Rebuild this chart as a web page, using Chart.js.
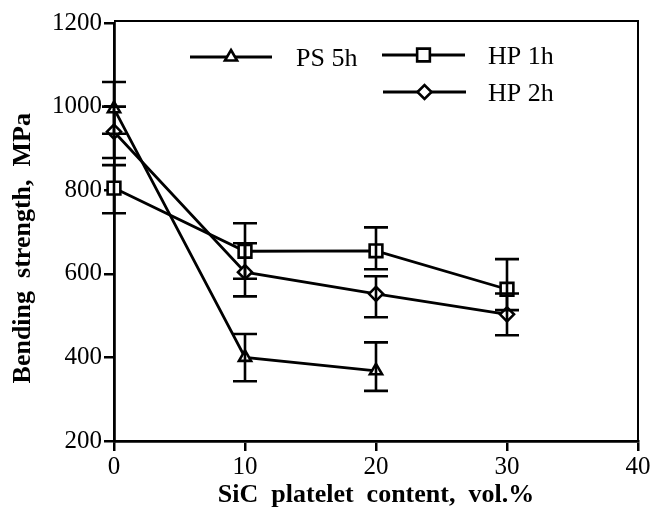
<!DOCTYPE html>
<html><head><meta charset="utf-8">
<script src="https://cdn.jsdelivr.net/npm/chart.js@4/dist/chart.umd.min.js"></script>
<style>html,body{margin:0;padding:0;background:#fff}</style>
</head><body>
<canvas id="c" width="663" height="515"></canvas>
<script>
// ---- data ----
const seriesNames = ['PS 5h', 'HP 1h', 'HP 2h'];
const psX  = [0, 10, 20];
const psY  = [995, 400, 368];
const psHi = [1059, 456, 436];
const psLo = [935, 343, 320];
const hpX   = [0, 10, 20, 30];
const hp1Y  = [805, 654, 655, 563];
const hp1Hi = [860, 721, 711, 635];
const hp1Lo = [745, 588, 611, 513];
const hp2Y  = [940, 604, 552, 503];
const hp2Hi = [1000, 673, 594, 553];
const hp2Lo = [877, 546, 496, 453];
const xTicks = [0, 10, 20, 30, 40];
const yTicks = [200, 400, 600, 800, 1000, 1200];
const xTitle = 'SiC  platelet  content,  vol.%';
const yTitle = 'Bending  strength,  MPa\u00a0\u00a0\u00a0\u00a0\u00a0';

function pts(xs, ys, hi, lo) { return xs.map((x, i) => ({x: x, y: ys[i], hi: hi[i], lo: lo[i]})); }

const FONT = "'Liberation Serif', 'Times New Roman', serif";

const errorBars = {
  id: 'errorBars',
  afterDatasetsDraw(chart) {
    const ctx = chart.ctx, ys = chart.scales.y;
    ctx.save();
    ctx.strokeStyle = '#000';
    ctx.lineWidth = 2.6;
    chart.data.datasets.forEach((ds, di) => {
      const meta = chart.getDatasetMeta(di);
      meta.data.forEach((el, i) => {
        const p = ds.data[i];
        const x = el.x, yh = ys.getPixelForValue(p.hi), yl = ys.getPixelForValue(p.lo);
        ctx.beginPath();
        ctx.moveTo(x, yh); ctx.lineTo(x, yl);
        ctx.moveTo(x - 12, yh); ctx.lineTo(x + 12, yh);
        ctx.moveTo(x - 12, yl); ctx.lineTo(x + 12, yl);
        ctx.stroke();
      });
    });
    ctx.restore();
  }
};

const frame = {
  id: 'frame',
  afterDraw(chart) {
    const {ctx, chartArea: a} = chart;
    ctx.save();
    ctx.strokeStyle = '#000';
    ctx.lineWidth = 2;
    ctx.beginPath();
    ctx.moveTo(a.left, a.top - 2); ctx.lineTo(a.right, a.top - 2); ctx.lineTo(a.right, a.bottom);
    ctx.stroke();
    // legend
    const items = [
      {ds: 0, x1: 190, x2: 272, y: 57, tx: 296},
      {ds: 1, x1: 382, x2: 465, y: 55, tx: 488},
      {ds: 2, x1: 383, x2: 466, y: 92, tx: 488}
    ];
    ctx.font = "26px " + FONT;
    ctx.textBaseline = 'middle';
    items.forEach(it => {
      const ds = chart.data.datasets[it.ds];
      ctx.strokeStyle = '#000';
      ctx.lineWidth = 2.8;
      ctx.beginPath(); ctx.moveTo(it.x1, it.y); ctx.lineTo(it.x2, it.y); ctx.stroke();
      ctx.fillStyle = '#fff';
      ctx.lineWidth = 2.6;
      Chart.helpers.drawPoint(ctx, {pointStyle: ds.pointStyle, rotation: 0, borderWidth: 2.6, radius: ds.pointRadius}, (it.x1 + it.x2) / 2, it.y);
      ctx.fillStyle = '#000';
      ctx.fillText(seriesNames[it.ds], it.tx, it.y + 2);
    });
    ctx.restore();
  }
};

const common = {borderColor: '#000', backgroundColor: '#fff', borderWidth: 2.8, clip: false,
  pointBorderWidth: 2.6, pointBackgroundColor: '#fff', pointBorderColor: '#000', tension: 0, fill: false};

new Chart(document.getElementById('c'), {
  type: 'line',
  data: {
    datasets: [
      Object.assign({label: seriesNames[0], data: pts(psX, psY, psHi, psLo), pointStyle: 'triangle', pointRadius: 7}, common),
      Object.assign({label: seriesNames[1], data: pts(hpX, hp1Y, hp1Hi, hp1Lo), pointStyle: 'rect', pointRadius: 9}, common),
      Object.assign({label: seriesNames[2], data: pts(hpX, hp2Y, hp2Hi, hp2Lo), pointStyle: 'rectRot', pointRadius: 7}, common)
    ]
  },
  options: {
    responsive: false,
    animation: false,
    devicePixelRatio: 1,
    layout: {padding: {left: 0, top: 23, right: 25, bottom: 0}},
    plugins: {legend: {display: false}, tooltip: {enabled: false}},
    scales: {
      x: {
        type: 'linear', min: 0, max: 40,
        afterBuildTicks: s => { s.ticks = xTicks.map(v => ({value: v})); },
        afterFit: s => { s.height = 74; },
        grid: {drawOnChartArea: false, color: '#000', tickLength: 10, lineWidth: 2.5},
        border: {color: '#000', width: 2.8},
        ticks: {color: '#000', font: {family: FONT, size: 25}, padding: 1, callback: v => String(v)},
        title: {display: true, text: xTitle, color: '#000', font: {family: FONT, size: 26, weight: 'bold'}, padding: {top: 0, bottom: 4}}
      },
      y: {
        type: 'linear', min: 200, max: 1200,
        afterBuildTicks: s => { s.ticks = yTicks.map(v => ({value: v})); },
        afterFit: s => { s.width = 114; },
        grid: {drawOnChartArea: false, color: '#000', tickLength: 10, lineWidth: 2.5},
        border: {color: '#000', width: 2.8},
        ticks: {color: '#000', font: {family: FONT, size: 25}, padding: 2, callback: v => String(v)},
        title: {display: true, text: yTitle, color: '#000', font: {family: FONT, size: 26, weight: 'bold'}, padding: {top: 8, bottom: 0}}
      }
    }
  },
  plugins: [errorBars, frame]
});
</script>
</body></html>
